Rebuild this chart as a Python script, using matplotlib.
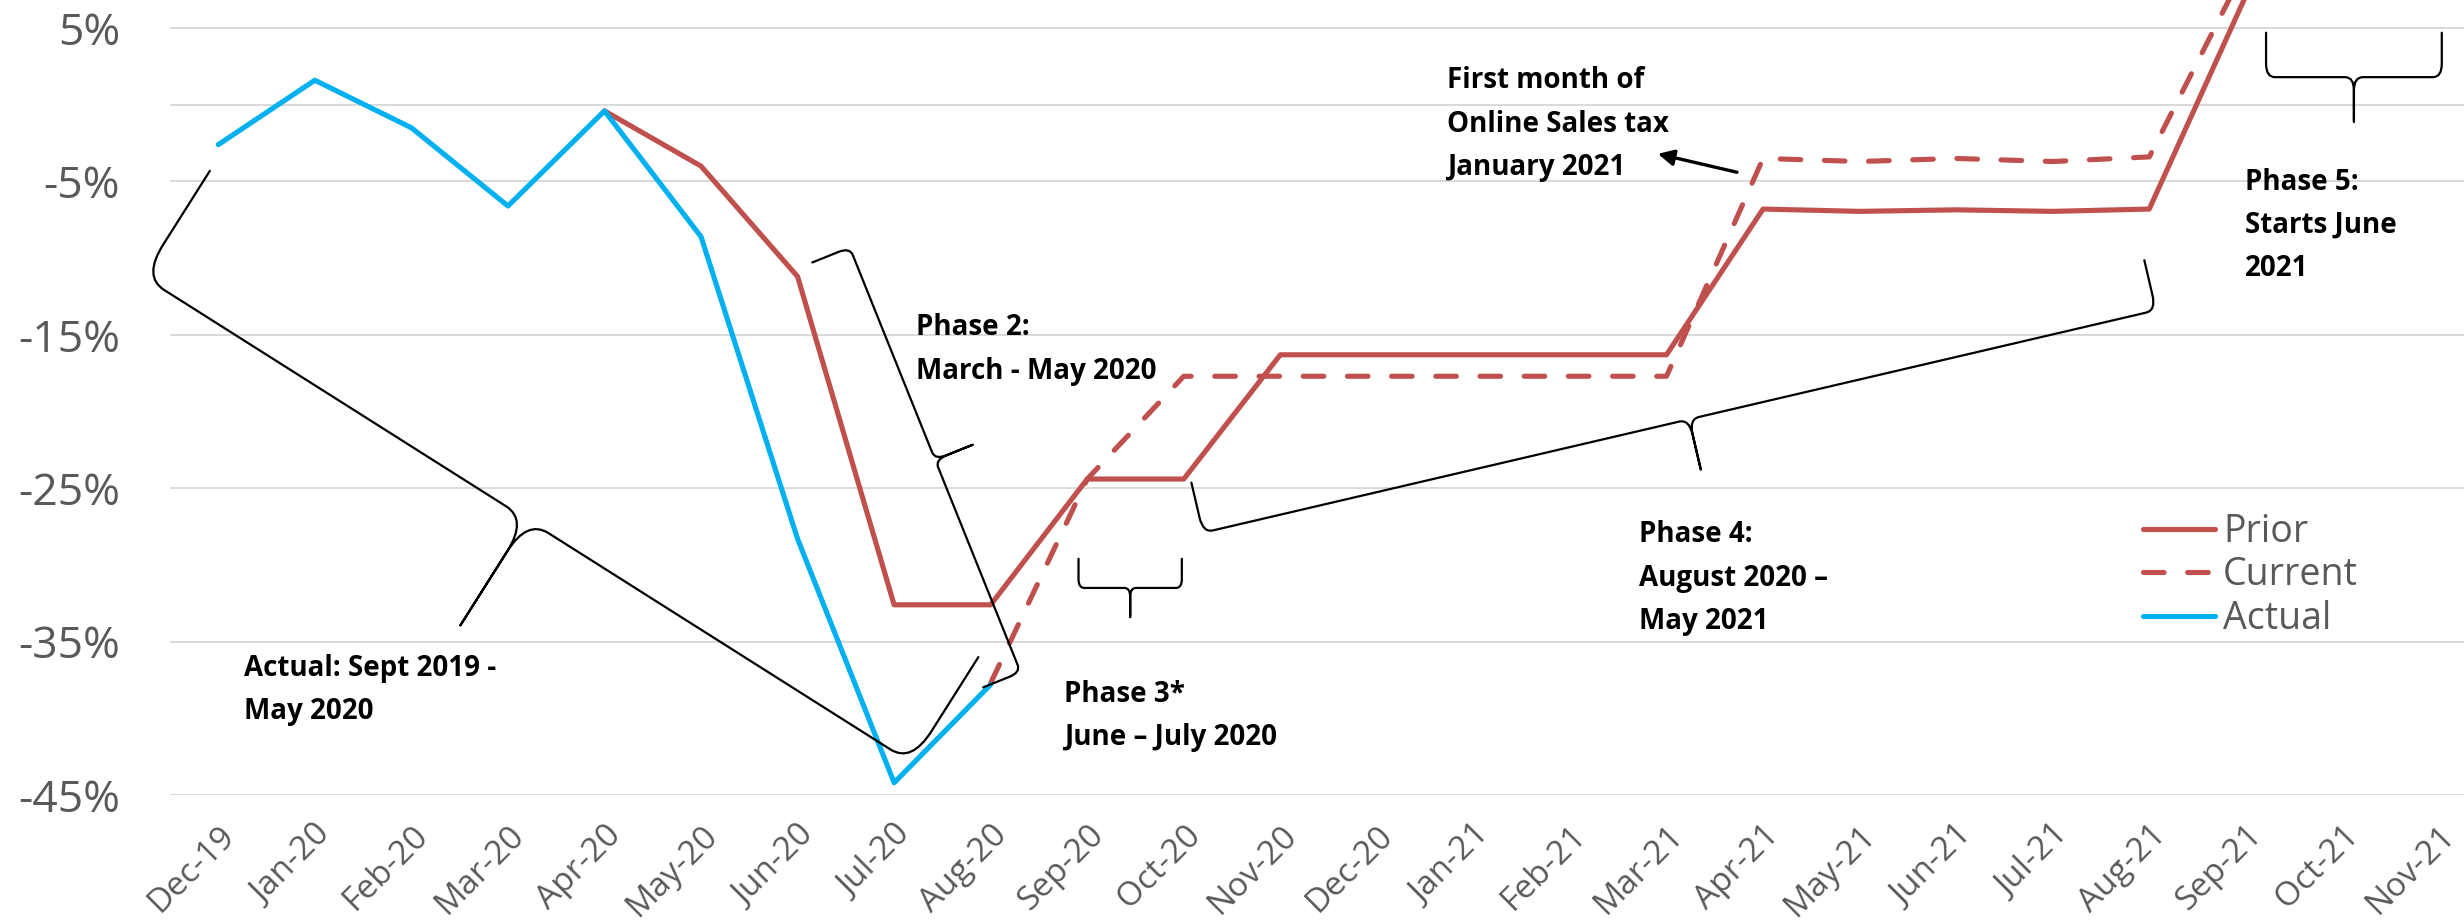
"""
Monthly revenue change vs. prior year: actuals, prior forecast and current forecast,
with the reopening phases bracketed on the chart.
"""
import numpy as np
from matplotlib import pyplot as plt
from matplotlib.path import Path
from matplotlib.patches import PathPatch

plt.rcParams['font.family'] = ['Open Sans', 'DejaVu Sans']

nan = np.nan
months = ['Dec-19', 'Jan-20', 'Feb-20', 'Mar-20', 'Apr-20', 'May-20', 'Jun-20', 'Jul-20',
          'Aug-20', 'Sep-20', 'Oct-20', 'Nov-20', 'Dec-20', 'Jan-21', 'Feb-21', 'Mar-21',
          'Apr-21', 'May-21', 'Jun-21', 'Jul-21', 'Aug-21', 'Sep-21', 'Oct-21', 'Nov-21']

# percent change, one value per month (nan = no value for that series)
actual = [-2.6, 1.6, -1.5, -6.6, -0.4, -8.6, -28.3, -44.2, -37.8] + [nan] * 15
prior = [nan] * 4 + [-0.4, -4.0, -11.2, -32.6, -32.6, -24.4, -24.4,
                     -16.3, -16.3, -16.3, -16.3, -16.3,
                     -6.8, -6.95, -6.85, -6.95, -6.8, 7.1, 8.5, 8.0]
current = [nan] * 8 + [-37.7, -24.4, -17.7, -17.7, -17.7, -17.7, -17.7, -17.7,
                       -3.5, -3.7, -3.5, -3.7, -3.4, 9.0, 10.0, 7.0]

yticks = [5, -5, -15, -25, -35, -45]

# phase notes: text, x (month index), y (top of text, %)
notes = [
    ('Actual: Sept 2019 -\nMay 2020', 0.27, -35.8),
    ('Phase 2:\nMarch - May 2020', 7.23, -13.6),
    ('Phase 3*\nJune \u2013 July 2020', 8.76, -37.5),
    ('Phase 4:\nAugust 2020 \u2013\nMay 2021', 14.72, -27.1),
    ('First month of\nOnline Sales tax\nJanuary 2021', 12.73, 2.5),
    ('Phase 5:\nStarts June\n2021', 20.99, -4.1),
]

# braces: start corner, end corner, depth [pt], tip position along the brace
braces = [
    ((-0.78, -11.2), (7.18, -42.9), 90, 0.5),
    ((8.31, -37.0), (6.54, -9.3), 29, 0.5),
    ((8.91, -31.5), (9.98, -31.5), 21, 0.5),
    ((10.20, -27.9), (20.07, -13.4), 37, 0.51),
    ((21.21, 1.8), (23.03, 1.8), 32, 0.5),
]

RED = '#C0504D'
BLUE = '#00B0F0'
GREY = '#595959'
GRID = '#D9D9D9'


def draw_brace(ax, p0, p1, depth, tip=0.5, lw=1.6):
    """Curly brace from p0 to p1 (data units); the hooks bend to the left
    of the p0->p1 direction and the tip points to the right."""
    fig = ax.figure
    d = depth * fig.dpi / 72.
    (x0, y0), (x1, y1) = ax.transData.transform([p0, p1])
    length = np.hypot(x1 - x0, y1 - y0)
    ux, uy = (x1 - x0) / length, (y1 - y0) / length
    nx, ny = -uy, ux
    r = 0.2 * d
    t = tip * length
    pts = [(0, d), (0, 0.3 * d), (0, 0), (r, 0),
           (t - r, 0), (t, 0), (t, -0.3 * d), (t, -d),
           (t, -0.3 * d), (t, 0), (t + r, 0),
           (length - r, 0), (length, 0), (length, 0.3 * d), (length, d)]
    codes = [Path.MOVETO, Path.LINETO, Path.CURVE3, Path.CURVE3,
             Path.LINETO, Path.CURVE3, Path.CURVE3, Path.LINETO,
             Path.LINETO, Path.CURVE3, Path.CURVE3,
             Path.LINETO, Path.CURVE3, Path.CURVE3, Path.LINETO]
    disp = [(x0 + u * ux + v * nx, y0 + u * uy + v * ny) for u, v in pts]
    verts = ax.transData.inverted().transform(disp)
    ax.add_patch(PathPatch(Path(verts, codes), fill=False, edgecolor='black',
                           lw=lw, capstyle='round', joinstyle='round', zorder=6,
                           clip_on=False))


fig = plt.figure(figsize=(24.64, 9.21), dpi=100)
ax = fig.add_axes([0.0690, 0.1368, 0.9404, 0.8632])

x = np.arange(len(months))
ax.plot(x, prior, color=RED, lw=3.7, solid_capstyle='round', label='Prior', zorder=3)
ax.plot(x, current, color=RED, lw=3.7, dashes=(4.0, 4.6), dash_capstyle='round',
        label='Current', zorder=3)
ax.plot(x, actual, color=BLUE, lw=3.7, solid_capstyle='round', label='Actual', zorder=4)

ax.set_xlim(-0.5, 23.5)
ax.set_ylim(-45, 6.83)
ax.set_yticks(yticks)
ax.set_yticklabels([f'{v}%' for v in yticks])
ax.set_xticks(x)
ax.set_xticklabels(months, rotation=45, ha='right', rotation_mode='anchor')
ax.tick_params(axis='y', length=0, pad=36, labelsize=32, labelcolor=GREY)
ax.tick_params(axis='x', length=0, pad=17, labelsize=24, labelcolor=GREY)
ax.grid(axis='y', color=GRID, lw=1.4)
ax.axhline(0, color=GRID, lw=1.4, zorder=1)
ax.set_axisbelow(True)
for s in ax.spines.values():
    s.set_visible(False)

for text, tx, ty in notes:
    ax.text(tx, ty, text, fontsize=20, fontweight='bold', color='black',
            ha='left', va='top', linespacing=1.65, zorder=7)

for p0, p1, depth, tip in braces:
    draw_brace(ax, p0, p1, depth, tip)

ax.annotate('', xy=(14.91, -3.2), xytext=(15.73, -4.4),
            arrowprops=dict(arrowstyle='-|>', color='black', lw=2.4,
                            mutation_scale=24, shrinkA=0, shrinkB=0), zorder=7)

leg = ax.legend(loc='upper left', bbox_to_anchor=(19.94, -26.6),
                bbox_transform=ax.transData, frameon=False, fontsize=27,
                handlelength=1.92, handletextpad=0.2, labelspacing=0.15,
                borderpad=0, borderaxespad=0)
for t in leg.get_texts():
    t.set_color(GREY)

fig.savefig('out.png', dpi=100)
plt.close(fig)
